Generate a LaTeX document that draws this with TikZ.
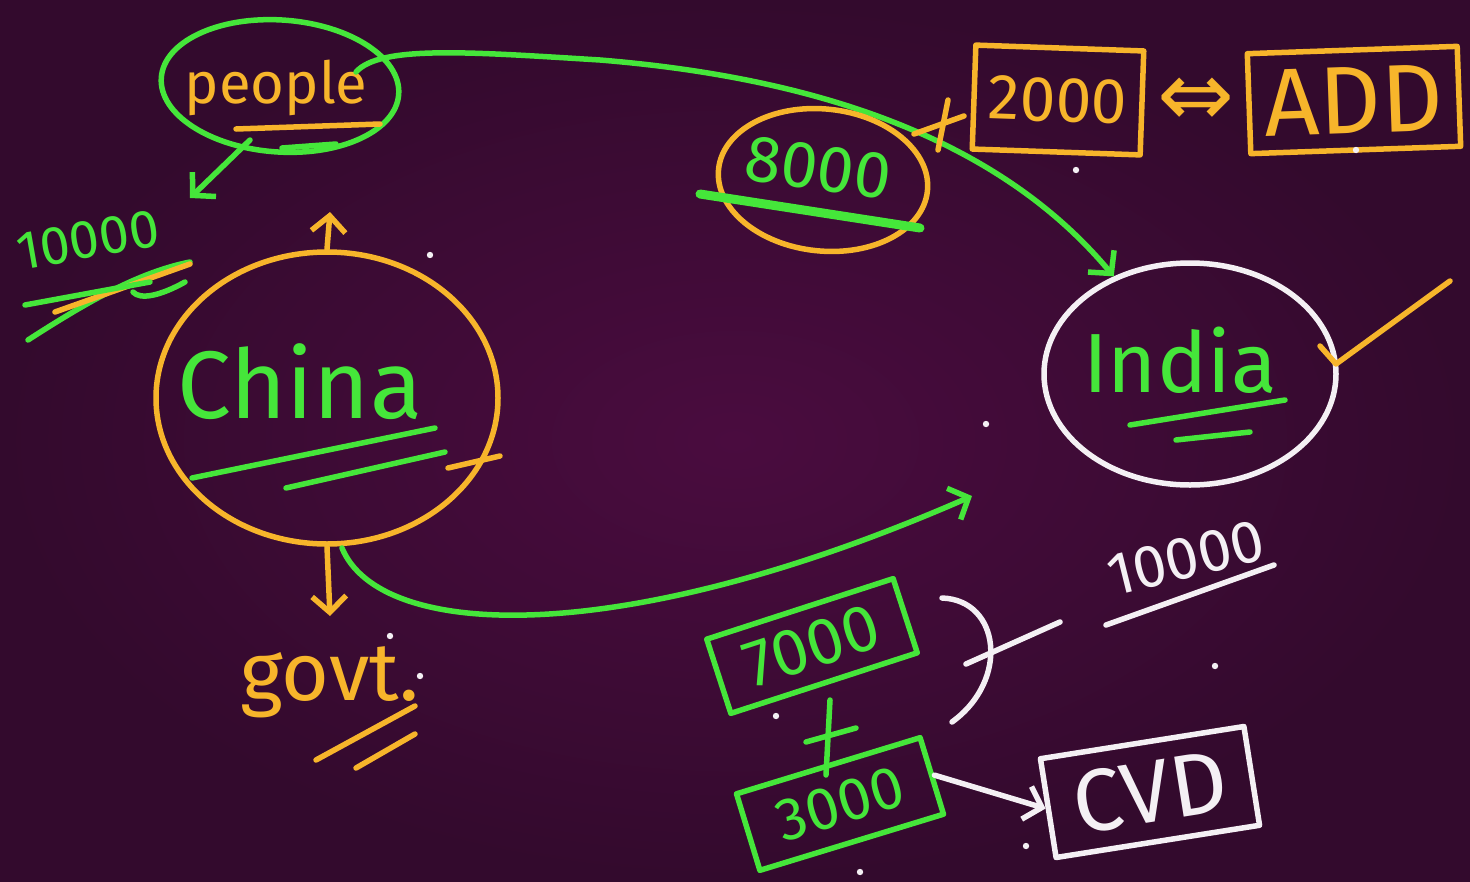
\documentclass[tikz,border=0pt]{standalone}
\usepackage{fontspec}
\setmainfont{Fira Sans}
\newfontfamily\symbolfont{DejaVu Sans}
\usetikzlibrary{shapes.geometric,arrows.meta,calc}

\definecolor{board}{HTML}{330A2D}
\definecolor{boardmid}{HTML}{4A0C3F}
\definecolor{chalkgreen}{HTML}{45E63A}
\definecolor{chalkorange}{HTML}{F7B52B}
\definecolor{chalkwhite}{HTML}{F4F0F4}

\newcommand{\fs}[1]{\fontsize{#1}{#1}\selectfont}

\begin{document}
\begin{tikzpicture}[x=1pt,y=-1pt,line cap=round,line join=round,
  pen/.style={line width=5.5pt},
  ring/.style={draw,ellipse,line width=5.5pt,inner sep=0pt},
  framebox/.style={draw,rectangle,line width=5.5pt,inner sep=0pt},
  word/.style={inner sep=0pt},
  tip/.style={-{Straight Barb[length=16pt,width=34pt,line width=5.5pt]}},
  speck/.style={fill=chalkwhite,draw=none}]

% board
\useasboundingbox (0,0) rectangle (1470,881);
\shade[inner color=boardmid,outer color=board] (0,0) rectangle (1470,881);

% ---------- people ----------
\node[ring,draw=chalkgreen,minimum width=238pt,minimum height=132pt,rotate=-4] (peopleRing) at (280,86) {};
\node[word,text=chalkorange,font=\fs{58}] (people) at (276,88) {people};
\draw[pen,chalkorange] (236,129) -- (380,124);
\draw[pen,chalkgreen] (282,148) -- (336,144);

% people -> 10000
\coordinate (peopleFoot) at (250,140);
\node[word,text=chalkgreen,font=\fs{54},rotate=10] (tenK) at (88,240) {10000};
\draw[pen,chalkgreen,tip] (peopleFoot) -- (190,198);
\draw[pen,chalkgreen] (28,340) .. controls (90,300) and (140,272) .. (190,262);
\draw[pen,chalkorange] (55,312) -- (190,264);
\draw[pen,chalkgreen] (25,305) -- (150,282);
\draw[pen,chalkgreen] (133,292) .. controls (140,300) and (160,296) .. (185,282);

% ---------- China ----------
\node[ring,draw=chalkorange,minimum width=342pt,minimum height=292pt] (chinaRing) at (327,398) {};
\node[word,text=chalkgreen,font=\fs{96}] (china) at (300,382) {China};
\draw[pen,chalkorange] (448,468) -- (500,456);
\draw[pen,chalkgreen] (192,478) -- (435,428);
\draw[pen,chalkgreen] (286,488) -- (445,452);

% China -> up
\coordinate (upTip) at (330,212);
\draw[pen,chalkorange,tip] (chinaRing.north) -- (upTip);

% China -> govt.
\node[word,text=chalkorange,font=\fs{82},anchor=base west] (govt) at (240,700) {govt.};
\draw[pen,chalkorange,tip] (chinaRing.south) -- (330,616);
\draw[pen,chalkorange] (316,760) -- (415,706);
\draw[pen,chalkorange] (356,768) -- (415,734);

% ---------- India ----------
\node[ring,draw=chalkwhite,minimum width=292pt,minimum height=222pt] (indiaRing) at (1190,374) {};
\node[word,text=chalkgreen,font=\fs{84}] (india) at (1180,360) {India};
\draw[pen,chalkgreen] (1130,425) -- (1285,400);
\draw[pen,chalkgreen] (1176,440) -- (1250,432);
\draw[pen,chalkorange] (1320,346) -- (1336,364) -- (1450,281);

% people -> India
\coordinate (peopleTail) at (356,72);
\draw[pen,chalkgreen,tip] (peopleTail) .. controls (380,45) and (470,52) .. (600,60)
  .. controls (820,78) and (1000,140) .. (indiaRing.128);

% ---------- 8000 + 2000 = ADD ----------
\node[ring,draw=chalkorange,minimum width=210pt,minimum height=142pt,rotate=-6] (eightRing) at (823,180) {};
\node[word,text=chalkgreen,font=\fs{66},rotate=-8] (eight) at (818,168) {8000};
\draw[line width=9pt,chalkgreen] (700,194) -- (920,228);

\draw[pen,chalkorange] (914,134) -- (964,116);
\draw[pen,chalkorange] (948,100) -- (938,150);

\node[framebox,draw=chalkorange,text=chalkorange,font=\fs{64},minimum width=168pt,minimum height=104pt,rotate=-2] (twoBox) at (1058,100) {2000};

\node[word,text=chalkorange,font=\symbolfont\fs{92}] (equiv) at (1196,102) {⇔};

\node[framebox,draw=chalkorange,text=chalkorange,font=\fs{96},minimum width=210pt,minimum height=100pt,rotate=2] (addBox) at (1354,100) {ADD};

% ---------- China -> 7000 + 3000 ----------
\coordinate (chinaBase) at (342,548);
\coordinate (sumTip) at (972,496);
\draw[pen,chalkgreen,tip] (chinaBase) .. controls (380,640) and (620,650) .. (sumTip);

\node[framebox,draw=chalkgreen,text=chalkgreen,font=\fs{66},minimum width=196pt,minimum height=78pt,rotate=18] (sevenBox) at (812,646) {7000};

\draw[pen,chalkgreen] (830,700) -- (826,775);
\draw[pen,chalkgreen] (806,742) -- (856,728);

\node[framebox,draw=chalkgreen,text=chalkgreen,font=\fs{60},minimum width=192pt,minimum height=80pt,rotate=17] (threeBox) at (840,804) {3000};

% brace and total
\draw[pen,chalkwhite] (942,598) .. controls (1000,600) and (1010,680) .. (952,722);
\draw[pen,chalkwhite] (966,664) -- (1060,622);
\node[word,text=chalkwhite,font=\fs{60},rotate=14] (total) at (1186,558) {10000};
\draw[pen,chalkwhite] (1106,625) -- (1274,565);

% 3000 -> CVD
\node[framebox,draw=chalkwhite,text=chalkwhite,font=\fs{88},minimum width=206pt,minimum height=100pt,rotate=9] (cvdBox) at (1150,792) {CVD};
\draw[pen,chalkwhite,tip] (threeBox.east) -- (cvdBox.west);

% chalk specks
\foreach \p in {(430,255),(986,424),(1215,666),(1076,170),(1356,150),(390,636),(420,676),(776,716),(1026,846),(860,872)}
  \fill[speck] \p circle (3.2pt);
\end{tikzpicture}
\end{document}
